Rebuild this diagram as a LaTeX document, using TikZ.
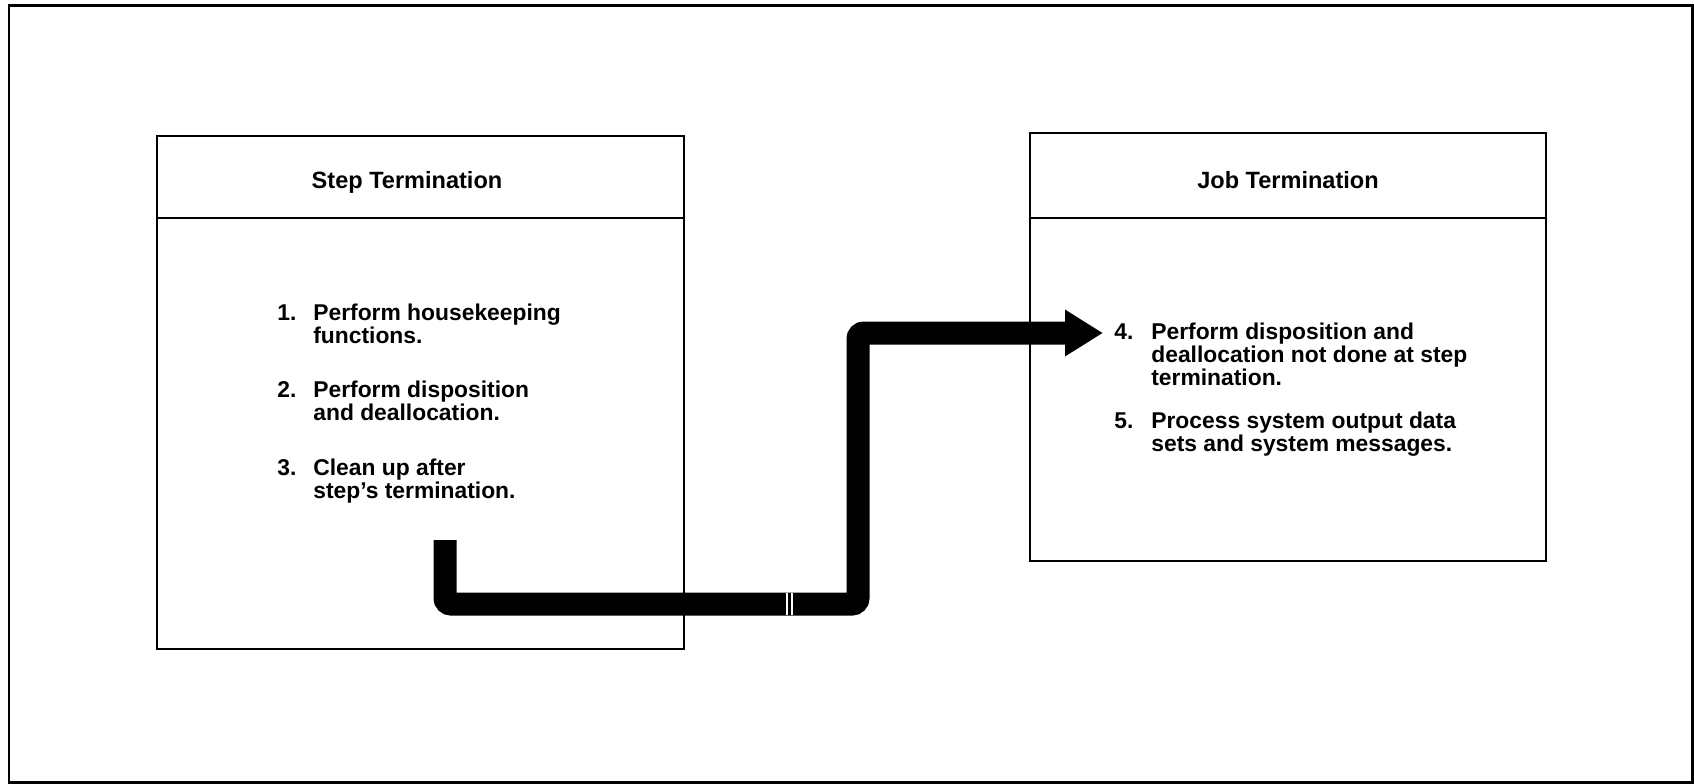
\documentclass[tikz,border=0pt]{standalone}
\usepackage{fontspec}
\setmainfont{Liberation Sans}
\usetikzlibrary{arrows.meta}
\begin{document}
\begin{tikzpicture}[x=0.02cm, y=-0.02cm,
  frame/.style={draw, line width=0.06cm},
  panel/.style={draw, line width=0.055cm, inner sep=0pt},
  rule/.style={line width=0.055cm},
  heading/.style={font=\bfseries\fontsize{13.4}{15}\selectfont, anchor=base, inner sep=0pt},
  entry/.style={font=\bfseries\fontsize{13}{12.6}\selectfont, anchor=base west, inner sep=0pt},
  flow/.style={line width=0.46cm, rounded corners=0.12cm,
    -{Triangle[length=0.76cm, width=0.88cm]}},
  nick/.style={white, line width=0.025cm}
]
\useasboundingbox (0,0) rectangle (1694,784);
\fill[white] (0,0) rectangle (1694,784);

% outer frame
\draw[frame] (9,6) rectangle (1692,782);

% the two panels
\node[panel, minimum width=10.54cm, minimum height=10.26cm] (steppanel) at (420.5,392.5) {};
\node[panel, minimum width=10.32cm, minimum height=8.56cm] (jobpanel) at (1288,347) {};
\draw[rule] (157,218) -- (684,218);
\draw[rule] (1030,218) -- (1546,218);

% headings
\node[heading] (steptitle) at (407,188) {Step Termination};
\node[heading] (jobtitle) at (1288,188) {Job Termination};

% step termination list
\node[entry] (s1) at (277,320) {\begin{tabular}[t]{@{}l@{}l@{}}\makebox[0.72cm][l]{1.} & Perform housekeeping\\ & functions.\end{tabular}};
\node[entry] (s2) at (277,397) {\begin{tabular}[t]{@{}l@{}l@{}}\makebox[0.72cm][l]{2.} & Perform disposition\\ & and deallocation.\end{tabular}};
\node[entry] (s3) at (277,475) {\begin{tabular}[t]{@{}l@{}l@{}}\makebox[0.72cm][l]{3.} & Clean up after\\ & step's termination.\end{tabular}};

% job termination list
\node[entry] (j4) at (1114,339) {\begin{tabular}[t]{@{}l@{}l@{}}\makebox[0.74cm][l]{4.} & Perform disposition and\\ & deallocation not done at step\\ & termination.\end{tabular}};
\node[entry] (j5) at (1114,428) {\begin{tabular}[t]{@{}l@{}l@{}}\makebox[0.74cm][l]{5.} & Process system output data\\ & sets and system messages.\end{tabular}};

% flow from step termination to job termination
\coordinate (src) at (445,540);
\coordinate (dst) at (1103,333);
\draw[flow] (src) |- (858,604) |- (dst);
\draw[nick] (787,593) -- (787,615);
\draw[nick] (792,593) -- (792,615);
\end{tikzpicture}
\end{document}
